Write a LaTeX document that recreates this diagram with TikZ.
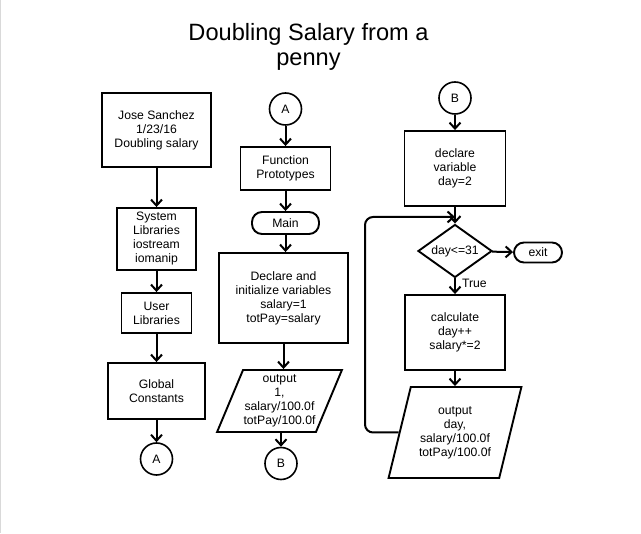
\documentclass[tikz,border=0pt]{standalone}
\usepackage{fontspec}
\setmainfont{Liberation Sans}
\usetikzlibrary{arrows.meta,positioning,shapes.geometric}

\begin{document}
\begin{tikzpicture} [
	x=1pt, y=-1pt,
	font=\fontsize{12.2}{14}\selectfont,
	every node/.style = {align=center, inner sep=0pt},
	process/.style = {draw, line width=1.9pt, rectangle},
	terminal/.style = {draw, line width=1.9pt, rectangle, rounded corners=10pt},
	connector/.style = {draw, line width=1.6pt, circle, minimum size=32pt},
	decision/.style = {draw, line width=1.9pt, diamond, aspect=1.4},
	io/.style = {draw, line width=1.9pt, trapezium, trapezium stretches=true},
	flow/.style = {-{Straight Barb[length=6pt,width=11pt]}, line width=2pt},
]
\useasboundingbox (0,0) rectangle (641,534);
\draw [black!15, line width=1pt] (0.5,0) -- (0.5,533);

\node [font=\fontsize{23.6}{25}\selectfont] (title) at (308.5,46.5) {Doubling Salary from a\\penny};

% left column
\node [process, minimum width=109pt, minimum height=74pt] (header) at (156.5,130) {Jose Sanchez\\1/23/16\\Doubling salary};
\node [process, minimum width=79pt, minimum height=62pt] (syslib) at (156.5,239) {System\\Libraries\\iostream\\iomanip};
\node [process, minimum width=70pt, minimum height=40pt] (usrlib) at (156.5,313) {User\\Libraries};
\node [process, minimum width=97pt, minimum height=56pt] (globals) at (156.5,391) {Global\\Constants};
\node [connector] (offA) at (156.5,459) {A};

% middle column
\node [connector] (onA) at (285.5,109) {A};
\node [process, minimum width=90pt, minimum height=43pt] (proto) at (285.5,168.5) {Function\\Prototypes};
\node [terminal, minimum width=67pt, minimum height=22pt] (main) at (285.5,223) {Main};
\node [process, minimum width=129pt, minimum height=90pt] (init) at (283.5,298) {Declare and\\initialize variables\\salary=1\\totPay=salary};
\node [io, trapezium left angle=64, trapezium right angle=116, minimum width=125pt, minimum height=62pt] (out1) at (279.5,401) {output\\1,\\salary/100.0f\\totPay/100.0f};
\node [connector] (offB) at (281,463.5) {B};

% right column
\node [connector] (onB) at (455,98) {B};
\node [process, minimum width=101pt, minimum height=75pt] (dayinit) at (455,168.5) {declare\\variable\\day=2};
\node [decision, minimum width=74pt, minimum height=53pt] (cond) at (455,251) {day<=31};
\node [terminal, minimum width=48pt, minimum height=20pt] (exit) at (538,252.5) {exit};
\node [process, minimum width=100pt, minimum height=75pt] (calc) at (455,332.5) {calculate\\day++\\salary*=2};
\node [io, trapezium left angle=71, trapezium right angle=109, minimum width=133pt, minimum height=91pt] (out2) at (455,432.5) {output\\day,\\salary/100.0f\\totPay/100.0f};
\coordinate (loopin) at (455,217);
\coordinate (loopcorner) at (365,217);

\draw [flow] (header) -- (syslib);
\draw [flow] (syslib) -- (usrlib);
\draw [flow] (usrlib) -- (globals);
\draw [flow] (globals) -- (offA);
\draw [flow] (onA) -- (proto);
\draw [flow] (proto) -- (main);
\draw [flow] (main) -- (main |- init.north);
\draw [flow] (init.south) -- (init.south |- out1.north);
\draw [flow] (offB |- out1.south) -- (offB);
\draw [flow] (onB) -- (dayinit);
\draw [flow] (dayinit) -- (cond);
\draw [flow] (cond) -- (exit);
\draw [flow] (cond) -- node [right=6pt, pos=0.3] {True} (calc);
\draw [flow] (calc) -- (out2);
\draw [flow, rounded corners=8pt] (out2.left side) -| (loopcorner) -- (loopin);
\end{tikzpicture}
\end{document}
